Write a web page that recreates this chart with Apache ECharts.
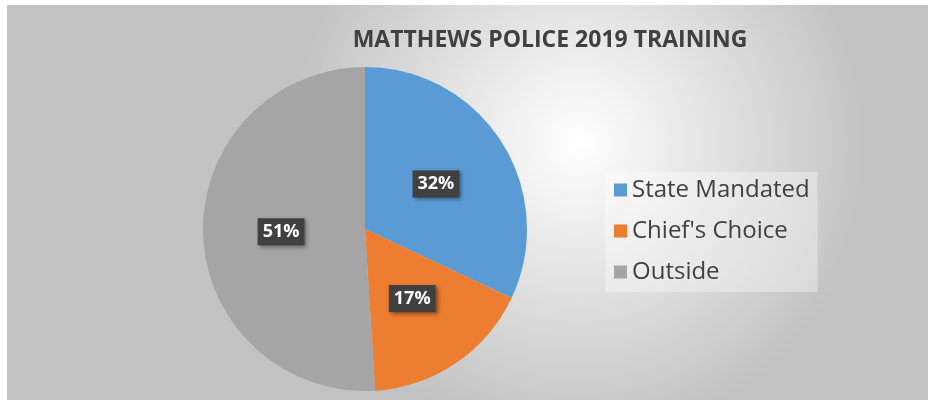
<!DOCTYPE html>
<html>
<head>
    <meta charset="utf-8" />
    <title>Matthews Police 2019 Training</title>
    <script src="https://cdn.jsdelivr.net/npm/echarts@6/dist/echarts.min.js"></script>
    <style>
        html, body { margin: 0; padding: 0; background: #fff; }
        #container { position: absolute; left: 7px; top: 5px; width: 921px; height: 395px; }
    </style>
</head>
<body>
    <div id="container"></div>
</body>
</html>
<script>
    // data
    var categories = ['State Mandated', "Chief's Choice", 'Outside'];
    var values = [32, 17, 51];
    var colors = ['#5b9bd5', '#ed7d31', '#a5a5a5'];

    var font = '"Open Sans", "Noto Sans", sans-serif';

    var pieData = categories.map(function (name, i) {
        return { name: name, value: values[i], itemStyle: { color: colors[i] } };
    });

    var myChart = echarts.init(document.getElementById('container'));

    var option = {
        backgroundColor: {
            type: 'radial', x: 0.62, y: 0.35, r: 0.75,
            colorStops: [
                { offset: 0, color: '#ffffff' },
                { offset: 1, color: '#c2c2c2' }
            ]
        },
        title: {
            text: 'MATTHEWS POLICE 2019 TRAINING',
            left: 538, top: 19, textAlign: 'center',
            textStyle: { fontFamily: font, fontWeight: 'bold', fontSize: 23, color: '#404040' }
        },
        legend: {
            orient: 'vertical',
            left: 598, top: 167,
            padding: [6, 8, 8, 9],
            backgroundColor: 'rgba(255,255,255,0.35)',
            itemWidth: 13, itemHeight: 13, itemGap: 17,
            icon: 'rect',
            data: categories,
            textStyle: { fontFamily: font, fontSize: 24, color: '#404040' }
        },
        series: [
            {
                type: 'pie',
                center: [358, 224],
                radius: 162,
                startAngle: 90,
                clockwise: true,
                silent: true,
                data: pieData,
                label: {
                    position: 'inside',
                    formatter: '{c}%',
                    fontFamily: font,
                    fontWeight: 'bold',
                    fontSize: 18,
                    color: '#fff',
                    backgroundColor: '#404040',
                    padding: [5, 5, 4, 5],
                    shadowColor: 'rgba(0,0,0,0.45)',
                    shadowBlur: 4,
                    shadowOffsetX: 2,
                    shadowOffsetY: 2
                },
                labelLine: { show: false }
            }
        ]
    };

    myChart.setOption(option);
</script>
